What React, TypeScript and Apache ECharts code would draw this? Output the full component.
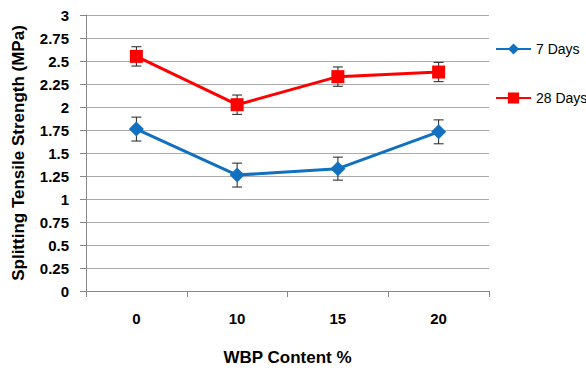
import React, { useEffect, useRef } from "react";
import * as echarts from "echarts";

const categories = ["0", "10", "15", "20"];
const days7 = [1.76, 1.26, 1.33, 1.73];
const days7Err = [0.13, 0.13, 0.125, 0.13];
const days28 = [2.55, 2.025, 2.33, 2.38];
const days28Err = [0.105, 0.105, 0.105, 0.105];
const yTicks = [0, 0.25, 0.5, 0.75, 1, 1.25, 1.5, 1.75, 2, 2.25, 2.5, 2.75, 3];

const FONT = "Liberation Sans, Arial, sans-serif";

function errData(vals: number[], errs: number[]) {
  return vals.map((v, i) => [i, v - errs[i], v + errs[i]]);
}

function renderErr(params: any, api: any) {
  const x = api.value(0);
  const lo = api.coord([x, api.value(1)]);
  const hi = api.coord([x, api.value(2)]);
  const w = 5;
  const style = { stroke: "#222", lineWidth: 1 };
  return {
    type: "group",
    children: [
      { type: "line", shape: { x1: lo[0], y1: lo[1], x2: hi[0], y2: hi[1] }, style },
      { type: "line", shape: { x1: lo[0] - w, y1: lo[1], x2: lo[0] + w, y2: lo[1] }, style },
      { type: "line", shape: { x1: hi[0] - w, y1: hi[1], x2: hi[0] + w, y2: hi[1] }, style },
    ],
  };
}

export default function App() {
  const ref = useRef<HTMLDivElement>(null);
  useEffect(() => {
    const chart = echarts.init(ref.current!, null, { renderer: "svg" });
    chart.setOption({
      animation: false,
      backgroundColor: "#fff",
      grid: { left: 86, top: 15, right: 97, bottom: 74 },
      legend: {
        orient: "vertical",
        left: 490,
        top: 37,
        itemGap: 35,
        itemWidth: 35,
        itemHeight: 14,
        textStyle: { fontFamily: FONT, fontSize: 14, color: "#000" },
        data: ["7 Days", "28 Days"],
      },
      xAxis: {
        type: "category",
        data: categories,
        boundaryGap: true,
        axisLine: { lineStyle: { color: "#888" } },
        axisTick: { show: true, length: 6, lineStyle: { color: "#888" } },
        axisLabel: { fontFamily: FONT, fontSize: 15, fontWeight: "bold", color: "#000", margin: 20 },
        name: "WBP Content %",
        nameLocation: "middle",
        nameGap: 58,
        nameTextStyle: { fontFamily: FONT, fontSize: 17, fontWeight: "bold", color: "#000" },
      },
      yAxis: {
        type: "value",
        min: 0,
        max: 3,
        interval: 0.25,
        axisLine: { show: true, lineStyle: { color: "#888" } },
        axisTick: { show: true, length: 6, lineStyle: { color: "#888" } },
        splitLine: { lineStyle: { color: "#aaa" } },
        axisLabel: {
          fontFamily: FONT,
          fontSize: 15,
          fontWeight: "bold",
          color: "#000",
          margin: 17,
          formatter: (v: number) => String(yTicks.find((t) => Math.abs(t - v) < 1e-9) ?? v),
        },
        name: "Splitting Tensile Strength (MPa)",
        nameLocation: "middle",
        nameGap: 59,
        nameTextStyle: { fontFamily: FONT, fontSize: 17, fontWeight: "bold", color: "#000" },
      },
      series: [
        {
          type: "custom",
          renderItem: renderErr,
          data: errData(days7, days7Err),
          z: 1,
          encode: { x: 0, y: [1, 2] },
        },
        {
          type: "custom",
          renderItem: renderErr,
          data: errData(days28, days28Err),
          z: 1,
          encode: { x: 0, y: [1, 2] },
        },
        {
          name: "7 Days",
          type: "line",
          data: days7,
          symbol: "diamond",
          symbolSize: 15,
          color: "#1270C0",
          lineStyle: { width: 3, color: "#1270C0" },
          itemStyle: { color: "#1270C0" },
          z: 3,
        },
        {
          name: "28 Days",
          type: "line",
          data: days28,
          symbol: "rect",
          symbolSize: 13,
          color: "#FF0000",
          lineStyle: { width: 3, color: "#FF0000" },
          itemStyle: { color: "#FF0000" },
          z: 3,
        },
      ],
    });
    return () => chart.dispose();
  }, []);
  return <div ref={ref} style={{ position: "absolute", left: 0, top: 0, width: 586, height: 371 }} />;
}
